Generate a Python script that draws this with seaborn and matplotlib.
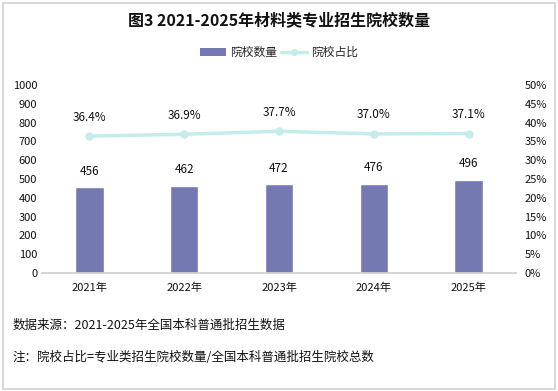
import numpy as np
import pandas as pd
import seaborn as sns
import matplotlib.pyplot as plt
from matplotlib.patches import Rectangle
from matplotlib.lines import Line2D
from matplotlib.ticker import FuncFormatter

years = ["2021年", "2022年", "2023年", "2024年", "2025年"]
counts = [456, 462, 472, 476, 496]
ratios = [36.4, 36.9, 37.7, 37.0, 37.1]

BAR_COLOR = "#7579b1"
LINE_COLOR = "#c4ecea"

sns.set_theme(style="white")
plt.rcParams["font.family"] = ["Noto Sans CJK SC", "DejaVu Sans"]

df = pd.DataFrame({"year": years, "count": counts, "ratio": ratios})

fig = plt.figure(figsize=(5.58, 3.91), dpi=100)
fig.patches.append(Rectangle((0.006, 0.006), 0.988, 0.986, transform=fig.transFigure,
                             fill=False, edgecolor="#d0d0d0", linewidth=1.2))

ax = fig.add_axes([0.0753, 0.3018, 0.8494, 0.4808])
sns.barplot(data=df, x="year", y="count", color=BAR_COLOR, width=0.3,
            saturation=1, ax=ax)
ax.set_ylim(0, 1000)
ax.set_yticks(range(0, 1001, 100))
ax.set_xlim(-0.5, len(years) - 0.5)
ax.set_xlabel("")
ax.set_ylabel("")
for s in ["top", "left", "right"]:
    ax.spines[s].set_visible(False)
ax.spines["bottom"].set_color("#d0d0d0")
ax.tick_params(axis="both", length=0, labelsize=8, colors="#111111")
ax.tick_params(axis="x", pad=7)
for i, v in enumerate(counts):
    ax.annotate(str(v), (i, v), xytext=(0, 7), textcoords="offset points",
                ha="center", va="bottom", fontsize=8.5, color="#111111")

ax2 = ax.twinx()
sns.lineplot(x=np.arange(len(years)), y=ratios, color=LINE_COLOR, linewidth=2.5,
             marker="o", markersize=6, markeredgewidth=0, ax=ax2)
ax2.set_ylim(0, 50)
ax2.set_yticks(range(0, 51, 5))
ax2.yaxis.set_major_formatter(FuncFormatter(lambda v, p: f"{v:.0f}%"))
ax2.set_xlim(-0.5, len(years) - 0.5)
for s in ["top", "left", "right", "bottom"]:
    ax2.spines[s].set_visible(False)
ax2.tick_params(axis="y", length=0, labelsize=8, colors="#111111", pad=6)
for i, v in enumerate(ratios):
    ax2.annotate(f"{v:.1f}%", (i, v), xytext=(0, 9), textcoords="offset points",
                 ha="center", va="bottom", fontsize=8.5, color="#111111")

fig.text(0.5, 0.945, "图3 2021-2025年材料类专业招生院校数量", ha="center", va="center",
         fontsize=11.5, fontweight="bold", color="#111111")

handles = [
    Rectangle((0, 0), 1, 1, facecolor=BAR_COLOR, edgecolor="none"),
    Line2D([0], [0], color=LINE_COLOR, linewidth=2.5, marker="o", markersize=5,
           markeredgewidth=0),
]
fig.legend(handles, ["院校数量", "院校占比"], loc="center", bbox_to_anchor=(0.5, 0.865),
           ncol=2, frameon=False, fontsize=8.5, handlelength=2.2, handleheight=0.6,
           columnspacing=0.4, handletextpad=0.3)

fig.text(0.022, 0.167, "数据来源：2021-2025年全国本科普通批招生数据", ha="left", va="center",
         fontsize=9, style="italic", color="#111111")
fig.text(0.022, 0.087, "注：院校占比=专业类招生院校数量/全国本科普通批招生院校总数", ha="left",
         va="center", fontsize=9, style="italic", color="#111111")

fig.savefig("out.png", dpi=100)
